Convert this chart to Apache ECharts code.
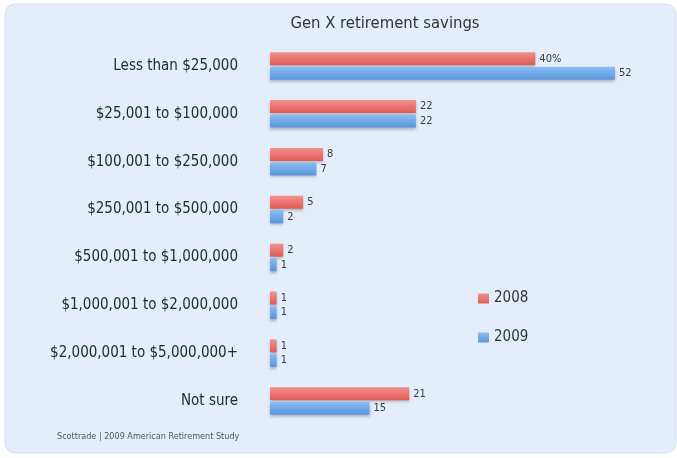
<!DOCTYPE html>
<html>
<head>
<meta charset="utf-8">
<style>
  html, body { margin: 0; padding: 0; background: #ffffff; }
  #chart { width: 677px; height: 458px; }
</style>
<script src="https://cdn.jsdelivr.net/npm/echarts@6/dist/echarts.min.js"></script>
</head>
<body>
<div id="chart"></div>
<script>
// Savings brackets, top to bottom
const categories = [
  'Less than $25,000',
  '$25,001 to $100,000',
  '$100,001 to $250,000',
  '$250,001 to $500,000',
  '$500,001 to $1,000,000',
  '$1,000,001 to $2,000,000',
  '$2,000,001 to $5,000,000+',
  'Not sure'
];
// Share of respondents, percent
const values2008 = [40, 22, 8, 5, 2, 1, 1, 21];
const values2009 = [52, 22, 7, 2, 1, 1, 1, 15];

const FONT = '"Liberation Sans Narrow", "DejaVu Sans Condensed", "Liberation Sans", sans-serif';

function barGradient(top, bottom) {
  return new echarts.graphic.LinearGradient(0, 0, 0, 1, [
    { offset: 0, color: top },
    { offset: 1, color: bottom }
  ]);
}

const chart = echarts.init(document.getElementById('chart'), null, { renderer: 'canvas' });

const labelStyle = {
  show: true,
  position: 'right',
  distance: 4,
  fontFamily: FONT,
  fontSize: 11,
  color: '#3a3a3a'
};

chart.setOption({
  animation: false,
  backgroundColor: 'transparent',
  graphic: [{
    type: 'rect',
    z: -10,
    silent: true,
    shape: { x: 5, y: 4, width: 671, height: 449, r: 10 },
    style: { fill: '#e3edfb', stroke: '#d3deed', lineWidth: 1 }
  }, {
    type: 'text',
    left: 57,
    top: 432,
    style: {
      text: 'Scottrade | 2009 American Retirement Study',
      fontFamily: FONT,
      fontSize: 9,
      fill: '#555555'
    }
  }],
  title: {
    text: 'Gen X retirement savings',
    left: 380,
    textAlign: 'center',
    top: 10,
    textStyle: { fontFamily: FONT, fontSize: 16.5, fontWeight: 'normal', color: '#333333' }
  },
  legend: {
    orient: 'vertical',
    left: 473,
    top: 286,
    itemWidth: 11,
    itemHeight: 10,
    itemGap: 24,
    icon: 'rect',
    textStyle: { fontFamily: FONT, fontSize: 15, color: '#333333' },
    data: ['2008', '2009']
  },
  grid: { left: 270, top: 42, width: 398, height: 383 },
  xAxis: {
    type: 'value',
    min: 0,
    max: 60,
    show: false
  },
  yAxis: {
    type: 'category',
    inverse: true,
    data: categories,
    axisLine: { show: false },
    axisTick: { show: false },
    axisLabel: {
      margin: 32,
      fontFamily: FONT,
      fontSize: 15,
      color: '#2a2a2a'
    }
  },
  series: [
    {
      name: '2008',
      type: 'bar',
      data: values2008,
      barWidth: 13,
      barGap: '12%',
      itemStyle: {
        color: barGradient('#f3908c', '#e05a57'),
        shadowColor: 'rgba(0,0,0,0.25)',
        shadowBlur: 3,
        shadowOffsetY: 2
      },
      label: Object.assign({}, labelStyle, {
        formatter: p => (p.dataIndex === 0 ? p.value + '%' : String(p.value))
      })
    },
    {
      name: '2009',
      type: 'bar',
      data: values2009,
      barWidth: 13,
      barGap: '12%',
      itemStyle: {
        color: barGradient('#8cbcf2', '#5a96de'),
        shadowColor: 'rgba(0,0,0,0.25)',
        shadowBlur: 3,
        shadowOffsetY: 2
      },
      label: labelStyle
    }
  ]
});
</script>
</body>
</html>
